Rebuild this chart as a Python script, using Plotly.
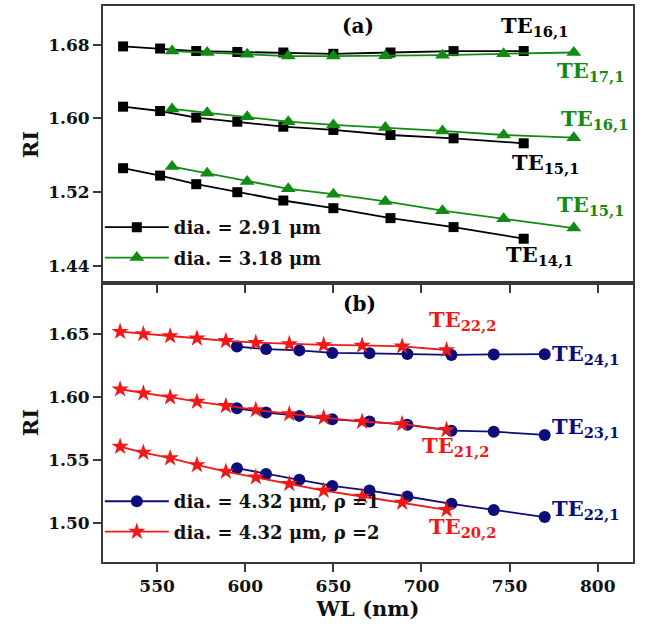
import plotly.graph_objects as go

# ---------------- data: panel (a) ----------------
wl_291 = [530.7, 551.7, 572.2, 595.5, 621.6, 650.0, 682.4, 718.2, 758.0]
ri_291_te16 = [1.678, 1.6757, 1.673, 1.672, 1.6714, 1.670, 1.6714, 1.6729, 1.673]
ri_291_te15 = [1.6127, 1.608, 1.6008, 1.5964, 1.591, 1.5875, 1.582, 1.5784, 1.573]
ri_291_te14 = [1.546, 1.538, 1.5287, 1.520, 1.511, 1.5027, 1.4919, 1.4822, 1.4696]

wl_318 = [558.5, 578.4, 601.1, 624.4, 650.0, 679.5, 711.9, 746.6, 786.4]
ri_318_te17 = [1.6729, 1.6714, 1.6696, 1.6675, 1.6675, 1.6678, 1.6685, 1.670, 1.6714]
ri_318_te16 = [1.6102, 1.6062, 1.6018, 1.5964, 1.5929, 1.590, 1.5864, 1.582, 1.5791]
ri_318_te15 = [1.5478, 1.5406, 1.5316, 1.5237, 1.5179, 1.510, 1.500, 1.4912, 1.4811]

# ---------------- data: panel (b) ----------------
wl_rho1 = [595.3, 611.8, 630.7, 649.4, 670.5, 692.0, 717.0, 741.0, 769.9]
ri_rho1_te24 = [1.640, 1.638, 1.637, 1.635, 1.6347, 1.6342, 1.6334, 1.6338, 1.6340]
ri_rho1_te23 = [1.5911, 1.5877, 1.5851, 1.5824, 1.5806, 1.578, 1.5734, 1.5726, 1.570]
ri_rho1_te22 = [1.5436, 1.5391, 1.5344, 1.5296, 1.5259, 1.5212, 1.5154, 1.5106, 1.5049]

wl_rho2 = [529.0, 542.2, 557.4, 572.6, 589.0, 606.0, 625.0, 644.5, 666.3, 689.0, 714.2]
ri_rho2_te22 = [1.6518, 1.650, 1.6484, 1.6466, 1.6445, 1.6431, 1.6421, 1.6413, 1.6409, 1.6402, 1.6373]
ri_rho2_te21 = [1.6062, 1.603, 1.5999, 1.5964, 1.593, 1.5898, 1.5866, 1.5837, 1.5806, 1.5787, 1.574]
ri_rho2_te20 = [1.5607, 1.556, 1.5516, 1.5462, 1.541, 1.5365, 1.5312, 1.5259, 1.5212, 1.5164, 1.5106]

legend_a = ["dia. = 2.91 \u03bcm", "dia. = 3.18 \u03bcm"]
legend_b = ["dia. = 4.32 \u03bcm, \u03c1 =1", "dia. = 4.32 \u03bcm, \u03c1 =2"]

x_ticks = [550, 600, 650, 700, 750, 800]
ya_ticks = [1.44, 1.52, 1.60, 1.68]
yb_ticks = [1.50, 1.55, 1.60, 1.65]

BLACK = "#000000"
GREEN = "#138a13"
BLUE = "#0d0d7a"
RED = "#f01818"
FONT = "DejaVu Serif"

fig = go.Figure()


def add_series(x, ys, color, symbol, size, name, xa, ya, legend, group):
    for i, y in enumerate(ys):
        fig.add_trace(go.Scatter(
            x=x, y=y, mode="lines+markers", xaxis=xa, yaxis=ya,
            line=dict(color=color, width=1.8),
            marker=dict(color=color, symbol=symbol, size=size),
            name=name, showlegend=(i == 0), legend=legend, legendgroup=group,
        ))


add_series(wl_291, [ri_291_te16, ri_291_te15, ri_291_te14], BLACK, "square", 10,
           legend_a[0], "x2", "y2", "legend", "a1")
add_series(wl_318, [ri_318_te17, ri_318_te16, ri_318_te15], GREEN, "triangle-up", 13,
           legend_a[1], "x2", "y2", "legend", "a2")
add_series(wl_rho1, [ri_rho1_te24, ri_rho1_te23, ri_rho1_te22], BLUE, "circle", 12,
           legend_b[0], "x", "y", "legend2", "b1")
add_series(wl_rho2, [ri_rho2_te22, ri_rho2_te21, ri_rho2_te20], RED, "star", 13,
           legend_b[1], "x", "y", "legend2", "b2")

tick_font = dict(family=FONT, size=17, color="#111111", weight="bold")
title_font = dict(family=FONT, size=21, color="#111111", weight="bold")
axis_common = dict(showline=True, mirror=True, linewidth=2, linecolor="#3a3a3a",
                   ticks="outside", ticklen=8, tickwidth=2, tickcolor="#3a3a3a",
                   showgrid=False, zeroline=False, tickfont=tick_font)

XR = [519.3, 820.0]
fig.update_layout(
    width=646, height=633,
    margin=dict(l=103, r=13, t=4, b=71),
    paper_bgcolor="white", plot_bgcolor="white",
    font=dict(family=FONT, color="#111111"),
    xaxis=dict(domain=[0, 1], range=XR, tickvals=x_ticks, anchor="y",
               title=dict(text="WL (nm)", font=title_font, standoff=6),
               **axis_common),
    yaxis=dict(domain=[0, 0.5018], range=[1.4693, 1.6904], tickvals=yb_ticks,
               tickformat=".2f", anchor="x",
               title=dict(text="RI", font=title_font, standoff=4),
               **axis_common),
    xaxis2=dict(domain=[0, 1], range=XR, tickvals=x_ticks, anchor="y2",
                showticklabels=False, **axis_common),
    yaxis2=dict(domain=[0.5018, 1], range=[1.4216, 1.7218], tickvals=ya_ticks,
                tickformat=".2f", anchor="x2",
                title=dict(text="RI", font=title_font, standoff=4),
                **axis_common),
    legend=dict(x=-0.006, y=0.635, xanchor="left", yanchor="top",
                bgcolor="rgba(0,0,0,0)", itemwidth=64, tracegroupgap=4,
                font=dict(family=FONT, size=18, color="#111111", weight="bold")),
    legend2=dict(x=-0.006, y=0.142, xanchor="left", yanchor="top",
                 bgcolor="rgba(0,0,0,0)", itemwidth=64, tracegroupgap=4,
                 font=dict(family=FONT, size=18, color="#111111", weight="bold")),
)


def label(text, x, y, color, xref, yref, size=21, xanchor="left"):
    fig.add_annotation(text=text, x=x, y=y, xref=xref, yref=yref, showarrow=False,
                       xanchor=xanchor, yanchor="middle",
                       font=dict(family=FONT, size=size, color=color, weight="bold"))


label("(a)", 664, 1.700, BLACK, "x2", "y2", 20, "center")
label("TE<sub>16,1</sub>", 744, 1.700, BLACK, "x2", "y2")
label("TE<sub>17,1</sub>", 776, 1.651, GREEN, "x2", "y2")
label("TE<sub>16,1</sub>", 778, 1.599, GREEN, "x2", "y2")
label("TE<sub>15,1</sub>", 750, 1.551, BLACK, "x2", "y2")
label("TE<sub>15,1</sub>", 776, 1.506, GREEN, "x2", "y2")
label("TE<sub>14,1</sub>", 747, 1.451, BLACK, "x2", "y2")

label("(b)", 665, 1.674, BLACK, "x", "y", 20, "center")
label("TE<sub>22,2</sub>", 703, 1.661, RED, "x", "y")
label("TE<sub>24,1</sub>", 773, 1.634, BLUE, "x", "y")
label("TE<sub>23,1</sub>", 773, 1.576, BLUE, "x", "y")
label("TE<sub>21,2</sub>", 699, 1.561, RED, "x", "y")
label("TE<sub>22,1</sub>", 773, 1.511, BLUE, "x", "y")
label("TE<sub>20,2</sub>", 703, 1.497, RED, "x", "y")

fig.write_html("out.html", config={"displayModeBar": False},
               post_script="document.body.style.margin='0';")
